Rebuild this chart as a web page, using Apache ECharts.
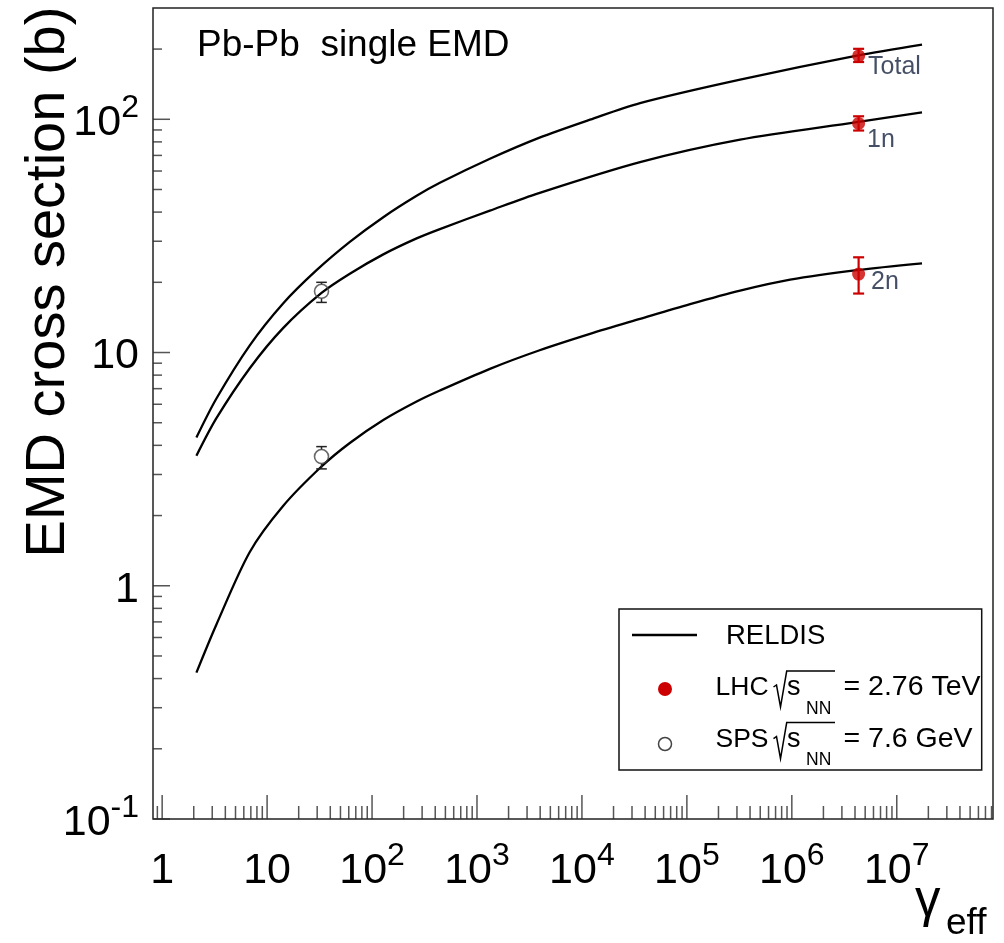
<!DOCTYPE html>
<html>
<head>
<meta charset="utf-8">
<title>Pb-Pb single EMD cross sections</title>
<script src="https://cdn.jsdelivr.net/npm/echarts@6/dist/echarts.min.js"></script>
<style>
  html, body { margin: 0; padding: 0; background: #fff; }
  #chart { width: 1004px; height: 943px; }
</style>
</head>
<body>
<div id="chart"></div>
<script>
// RELDIS predictions: effective Lorentz factor vs. cross section (barn)
const reldisTotalGamma = [2.12, 3.29, 6.84, 14.2, 29.6, 61.4, 128, 266, 443, 1328, 3893, 11940, 35780, 321600, 4.17e6, 1.74e7];
const reldisTotalSigma = [4.32, 6.35, 10.74, 16.23, 22.54, 29.81, 38.04, 46.97, 53.41, 67.7, 83.2, 99.6, 117.3, 147.9, 187.4, 208.9];
const reldis1nGamma = [2.12, 3.29, 6.84, 14.2, 33, 61.4, 128, 266, 443, 1328, 3893, 35780, 321600, 4.17e6, 1.74e7];
const reldis1nSigma = [3.607, 5.228, 8.563, 12.72, 18.0, 21.76, 26.35, 30.85, 33.82, 40.59, 48.25, 65.52, 81.8, 97.2, 106.98];
const reldis2nGamma = [2.12, 3.29, 6.84, 14.2, 33, 61.4, 128, 266, 443, 1328, 3893, 11940, 35780, 107300, 321600, 964000, 4.17e6, 1.74e7];
const reldis2nSigma = [0.424, 0.6825, 1.396, 2.198, 3.245, 4.093, 5.135, 6.164, 6.871, 8.511, 10.2, 12.02, 13.94, 16.13, 18.44, 20.55, 22.57, 24.13];

// LHC measurement (sqrt(sNN) = 2.76 TeV): Total, 1n, 2n
const lhcGamma = 4.33e6;
const lhcNames = ['Total', '1n', '2n'];
const lhcSigma = [187, 96, 21.7];
const lhcLow = [176, 89.5, 17.9];
const lhcHigh = [200.5, 103, 25.6];

// SPS measurement (sqrt(sNN) = 7.6 GeV): 1n, 2n
const spsGamma = 33;
const spsSigma = [18.3, 3.58];
const spsLow = [16.4, 3.17];
const spsHigh = [20.0, 3.95];

// Axes
const xRange = [0.818, 8.26e7];
const yRange = [0.1, 300];
const xMajorTicks = [1, 10, 1e2, 1e3, 1e4, 1e5, 1e6, 1e7];
const xTickLabels = ['{m|1}', '{m|10}', '{m|10}{s|2}', '{m|10}{s|3}', '{m|10}{s|4}', '{m|10}{s|5}', '{m|10}{s|6}', '{m|10}{s|7}'];
const yMajorTicks = [0.1, 1, 10, 100];
const yTickLabels = ['{m|10}{s|-1}', '{m|1}', '{m|10}', '{m|10}{s|2}'];
const minorSteps = [2, 3, 4, 5, 6, 7, 8, 9];

const FONT = '"Liberation Sans", Arial, Helvetica, sans-serif';

function minorTicks(majors, range) {
  const out = [];
  const decades = [majors[0] / 10].concat(majors);
  decades.forEach(d => minorSteps.forEach(k => {
    const v = d * k;
    if (v > range[0] * 1.0001 && v < range[1] * 0.9999) out.push(v);
  }));
  return out;
}
const xMinorTicks = minorTicks(xMajorTicks, xRange);
const yMinorTicks = minorTicks(yMajorTicks, yRange);

function labelLookup(ticks, labels) {
  return function (v) {
    const lv = Math.log10(v);
    const i = ticks.findIndex(t => Math.abs(Math.log10(t) - lv) < 1e-6);
    return i < 0 ? '' : labels[i];
  };
}
const zip = (g, s) => g.map((v, i) => [v, s[i]]);

const tickRich = {
  m: { fontSize: 43, lineHeight: 62, fontFamily: FONT, color: '#000' },
  s: { fontSize: 32, lineHeight: 32, verticalAlign: 'top', fontFamily: FONT, color: '#000' }
};

// tick marks drawn as thin rectangles anchored on the axis lines
function xTickSeries(values, len) {
  return {
    type: 'scatter', silent: true, clip: false, z: 3,
    data: values.map(v => [v, yRange[0]]),
    symbol: 'rect', symbolSize: [1.5, len], symbolOffset: [0, -len / 2],
    itemStyle: { color: '#2a2a2a' }
  };
}
function yTickSeries(values, len) {
  return {
    type: 'scatter', silent: true, clip: false, z: 3,
    data: values.map(v => [xRange[0], v]),
    symbol: 'rect', symbolSize: [len, 1.5], symbolOffset: [len / 2, 0],
    itemStyle: { color: '#2a2a2a' }
  };
}

function errorBars(capHalf, color, width, gapR) {
  return function (params, api) {
    const x = api.value(0);
    const top = api.coord([x, api.value(2)]);
    const bot = api.coord([x, api.value(1)]);
    const mid = api.coord([x, api.value(3)]);
    const st = { stroke: color, lineWidth: width };
    return {
      type: 'group',
      children: [
        { type: 'line', shape: { x1: top[0], y1: top[1], x2: mid[0], y2: mid[1] - gapR }, style: st },
        { type: 'line', shape: { x1: mid[0], y1: mid[1] + gapR, x2: bot[0], y2: bot[1] }, style: st },
        { type: 'line', shape: { x1: top[0] - capHalf, y1: top[1], x2: top[0] + capHalf, y2: top[1] }, style: st },
        { type: 'line', shape: { x1: bot[0] - capHalf, y1: bot[1], x2: bot[0] + capHalf, y2: bot[1] }, style: st }
      ]
    };
  };
}

const curveStyle = { color: '#000', width: 2.3 };
function curve(name, g, s) {
  return {
    type: 'line', name: name, data: zip(g, s), showSymbol: false, symbol: 'none',
    smooth: 0.3, lineStyle: curveStyle, z: 2, silent: true
  };
}

const lhcLabelPos = [[16, 5], [15, 11], [19, 2]];
const labelColor = '#15223f';

const chart = echarts.init(document.getElementById('chart'), null, { renderer: 'canvas' });

const legendText = (text, x, y, size) => ({
  type: 'text', x: x, y: y,
  style: { text: text, fontSize: size, fontFamily: FONT, fill: '#000', verticalAlign: 'middle' }
});

const option = {
  animation: false,
  backgroundColor: '#fff',
  grid: {
    left: 153, right: 11, top: 8, bottom: 124,
    show: true, borderColor: '#222', borderWidth: 1.5, backgroundColor: 'transparent',
    containLabel: false, outerBoundsMode: 'none'
  },
  xAxis: {
    type: 'log', logBase: 10, min: xRange[0], max: xRange[1],
    axisLine: { show: false }, axisTick: { show: false }, splitLine: { show: false },
    axisLabel: { margin: 21, formatter: labelLookup(xMajorTicks, xTickLabels), rich: tickRich, showMinLabel: true, showMaxLabel: true }
  },
  yAxis: {
    type: 'log', logBase: 10, min: yRange[0], max: yRange[1],
    axisLine: { show: false }, axisTick: { show: false }, splitLine: { show: false },
    axisLabel: { margin: 14, padding: [8, 0, 0, 0], formatter: labelLookup(yMajorTicks, yTickLabels), rich: tickRich }
  },
  series: [
    xTickSeries(xMajorTicks, 24),
    xTickSeries(xMinorTicks, 13),
    yTickSeries(yMajorTicks, 17),
    yTickSeries(yMinorTicks, 9),
    curve('RELDIS Total', reldisTotalGamma, reldisTotalSigma),
    curve('RELDIS 1n', reldis1nGamma, reldis1nSigma),
    curve('RELDIS 2n', reldis2nGamma, reldis2nSigma),
    {
      type: 'custom', name: 'SPS errors', z: 4, silent: true,
      renderItem: errorBars(5.3, '#222', 1.5, 7),
      encode: { x: 0, y: [1, 2] },
      data: spsSigma.map((s, i) => [spsGamma, spsLow[i], spsHigh[i], s])
    },
    {
      type: 'scatter', name: 'SPS', z: 5, silent: true,
      data: spsSigma.map(s => [spsGamma, s]),
      symbol: 'circle', symbolSize: 14,
      itemStyle: { color: 'rgba(255,255,255,0)', borderColor: '#444', borderWidth: 1.6 }
    },
    {
      type: 'custom', name: 'LHC errors', z: 4, silent: true,
      renderItem: errorBars(5.5, '#cc0000', 2.2, 0),
      encode: { x: 0, y: [1, 2] },
      data: lhcSigma.map((s, i) => [lhcGamma, lhcLow[i], lhcHigh[i], s])
    },
    {
      type: 'scatter', name: 'LHC', z: 5, silent: true,
      data: lhcSigma.map((s, i) => ({
        value: [lhcGamma, s],
        label: { position: lhcLabelPos[i] }
      })),
      symbol: 'circle', symbolSize: 13,
      itemStyle: { color: '#cc0000' },
      label: {
        show: true, formatter: p => lhcNames[p.dataIndex],
        fontSize: 25, fontFamily: FONT, color: labelColor
      }
    }
  ],
  graphic: [
    // panel caption
    { type: 'text', x: 197, y: 46, z: 50, style: { text: 'Pb-Pb  single EMD', fontSize: 37, fontFamily: FONT, fill: '#000', align: 'left', verticalAlign: 'middle' } },
    // axis titles
    { type: 'text', x: 48.6, y: 282, rotation: Math.PI / 2, z: 50, style: { text: 'EMD cross section (b)', fontSize: 56, fontFamily: FONT, fill: '#000', align: 'center', verticalAlign: 'middle' } },
    { type: 'text', x: 915, y: 902, z: 50, style: { text: 'γ', fontSize: 51, fontFamily: FONT, fill: '#000', align: 'left', verticalAlign: 'middle' } },
    { type: 'text', x: 946, y: 924, z: 50, style: { text: 'eff', fontSize: 37, fontFamily: FONT, fill: '#000', align: 'left', verticalAlign: 'middle' } },
    // legend
    {
      type: 'group', z: 60,
      children: [
        { type: 'rect', shape: { x: 619, y: 609, width: 362.7, height: 161 }, style: { fill: '#fff', stroke: '#111', lineWidth: 1.5 } },
        { type: 'line', shape: { x1: 632, y1: 635, x2: 697, y2: 635 }, style: { stroke: '#000', lineWidth: 2.4 } },
        legendText('RELDIS', 726, 636.5, 27.5),

        { type: 'circle', shape: { cx: 665, cy: 689, r: 7 }, style: { fill: '#cc0000' } },
        legendText('LHC', 715.5, 687.5, 26.5),
        { type: 'polyline', shape: { points: [[773.5, 687], [776.5, 685], [780.5, 707], [786.7, 671], [835, 671]] }, style: { stroke: '#000', lineWidth: 1.5, fill: null } },
        legendText('s', 787, 687.5, 27),
        legendText('NN', 806, 709, 17.5),
        legendText('= 2.76 TeV', 843.5, 687.5, 28.5),

        { type: 'circle', shape: { cx: 665, cy: 744, r: 6.5 }, style: { fill: 'none', stroke: '#444', lineWidth: 1.5 } },
        legendText('SPS', 715.5, 739.3, 26.5),
        { type: 'polyline', shape: { points: [[773.5, 738.6], [776.5, 736.6], [780.5, 758.6], [786.7, 722.6], [835, 722.6]] }, style: { stroke: '#000', lineWidth: 1.5, fill: null } },
        legendText('s', 787, 739.3, 27),
        legendText('NN', 806, 760.6, 17.5),
        legendText('= 7.6 GeV', 843.5, 739.3, 28.5)
      ]
    }
  ]
};

chart.setOption(option);
</script>
</body>
</html>
